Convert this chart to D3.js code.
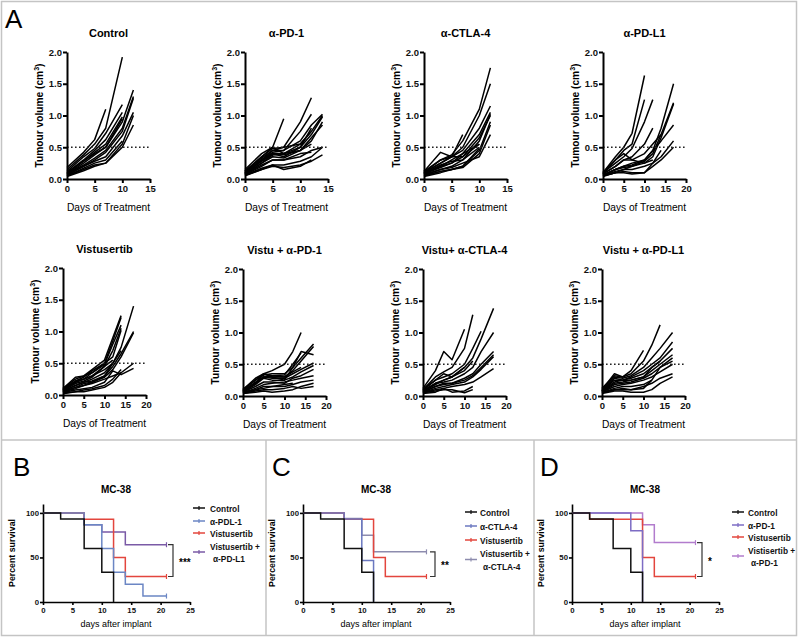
<!DOCTYPE html>
<html><head><meta charset="utf-8">
<script src="https://cdn.jsdelivr.net/npm/d3@7"></script>
<style>body{margin:0;background:#fff} svg{display:block} text{font-family:"Liberation Sans",Arial,sans-serif}</style>
</head><body><svg id="c" width="800" height="637"></svg>
<script>
// ---------- DATA ----------
const tumourDays = [0,3,5,7,10,12,14,17];
const tumourYTicks = [0,0.5,1,1.5,2];
const tumourTitles = ["Control","α-PD-1","α-CTLA-4","α-PD-L1","Vistusertib","Vistu + α-PD-1","Vistu+ α-CTLA-4","Vistu + α-PD-L1"];
const tumourXMax = [15,15,15,20,20,20,20,20];
const thresholdVolume = 0.5;

const controlVol = [
 [0.15,0.38,0.55,0.8,1.92],[0.18,0.42,0.62,1.1],[0.12,0.35,0.48,0.72,1.17],[0.1,0.3,0.45,0.62,1.05],
 [0.1,0.28,0.42,0.55,0.98],[0.08,0.25,0.38,0.5,0.9,1.4],[0.08,0.22,0.33,0.45,0.8,1.3],[0.07,0.2,0.3,0.42,0.75,1.27],
 [0.06,0.2,0.28,0.35,0.68,1.05],[0.05,0.17,0.25,0.3,0.6],[0.05,0.15,0.22,0.25,0.55,1.0],[0.04,0.13,0.2,0.25,0.5,0.85],
 [0.09,0.28,0.4,0.5,0.95]];
const pd1Vol = [
 [0.15,0.4,0.5,0.95],[0.12,0.35,0.48,0.5,0.9,1.28],[0.12,0.33,0.45,0.45,0.75,1.02],[0.1,0.3,0.42,0.45,0.6,0.85,1.02],
 [0.1,0.28,0.4,0.4,0.55,0.75,1.0],[0.1,0.3,0.4,0.35,0.5,0.7,0.98],[0.09,0.28,0.38,0.38,0.45,0.6,0.9],[0.08,0.25,0.35,0.33,0.45,0.55],
 [0.08,0.25,0.38,0.4,0.5,0.8],[0.07,0.2,0.3,0.3,0.35,0.45,0.5],[0.06,0.15,0.2,0.18,0.22,0.28,0.38],[0.06,0.17,0.22,0.22,0.28,0.35,0.5],
 [0.1,0.3,0.45,0.5,0.55,0.75],[0.08,0.22,0.3,0.3,0.4,0.42],[0.12,0.35,0.5,0.4,0.45,0.65,0.85],[0.05,0.15,0.22,0.15,0.2,0.3]];
const ctla4Vol = [
 [0.12,0.3,0.38,0.6,1.1,1.75],[0.1,0.25,0.35,0.5,1.0,1.5],[0.12,0.42,0.35,0.7],[0.1,0.25,0.35,0.45,0.8,1.15],
 [0.08,0.2,0.3,0.4,0.7,1.05],[0.08,0.18,0.25,0.35,0.65,1.0],[0.07,0.15,0.2,0.3,0.6,1.02],[0.06,0.15,0.18,0.25,0.35,0.7],
 [0.1,0.3,0.35,0.35,0.55],[0.05,0.12,0.15,0.2,0.45,0.9],[0.05,0.12,0.15,0.18,0.4,0.85],[0.09,0.22,0.28,0.3,0.5],
 [0.04,0.1,0.15,0.2,0.48],[0.08,0.2,0.25,0.4,0.55]];
const pdl1Vol = [
 [0.1,0.35,0.5,0.72,1.63],[0.08,0.3,0.45,0.55,1.25],[0.1,0.25,0.35,0.48,0.9,1.25],[0.08,0.2,0.3,0.35,0.55,0.8],
 [0.06,0.15,0.2,0.25,0.3,0.45,0.8,1.5],[0.06,0.15,0.18,0.2,0.28,0.4,0.7,1.2],[0.05,0.12,0.15,0.2,0.25,0.35,0.65,1.18],
 [0.05,0.1,0.15,0.15,0.2,0.25,0.35,0.6],[0.08,0.2,0.3,0.3,0.4,0.55,0.7],[0.04,0.1,0.12,0.1,0.1,0.2,0.3,0.5],
 [0.06,0.15,0.2,0.22,0.3,0.45,0.6,0.85],[0.05,0.1,0.1,0.08,0.1,0.25,0.45],[0.1,0.3,0.4,0.3,0.25,0.3]];
const vistVol = [
 [0.1,0.25,0.3,0.4,0.55,0.9,1.25],[0.1,0.22,0.28,0.38,0.5,0.85,1.22],[0.08,0.2,0.25,0.35,0.48,0.8,1.1],[0.08,0.2,0.25,0.3,0.45,0.7,1.05],
 [0.06,0.15,0.2,0.25,0.35,0.5,0.75,1.4],[0.06,0.15,0.2,0.22,0.3,0.45,0.65,1.0],[0.05,0.12,0.18,0.2,0.28,0.4,0.6,0.98],
 [0.05,0.1,0.15,0.18,0.25,0.3,0.35,0.5],[0.04,0.08,0.1,0.12,0.2,0.38,0.32,0.42],[0.08,0.22,0.25,0.3,0.4,0.5],
 [0.03,0.05,0.08,0.1,0.15,0.25,0.4],[0.1,0.28,0.3,0.35,0.5,0.6,1.02],[0.07,0.18,0.22,0.28,0.45,0.55],
 [0.05,0.12,0.15,0.2,0.3,0.5,0.7],[0.02,0.05,0.05,0.08,0.12,0.2,0.35]];
const vistPd1Vol = [
 [0.1,0.28,0.35,0.4,0.5,0.7,1.0],[0.1,0.25,0.33,0.35,0.35,0.45,0.6,0.82],[0.08,0.22,0.3,0.3,0.3,0.4,0.55,0.78],
 [0.08,0.2,0.35,0.3,0.25,0.45,0.7,0.65],[0.07,0.2,0.3,0.28,0.28,0.35,0.42,0.52],[0.06,0.18,0.28,0.25,0.25,0.3,0.38,0.48],
 [0.06,0.15,0.22,0.22,0.2,0.28,0.32,0.42],[0.05,0.12,0.18,0.2,0.22,0.25,0.28,0.32],[0.05,0.1,0.15,0.15,0.15,0.18,0.22,0.25],
 [0.04,0.08,0.1,0.1,0.12,0.15,0.12,0.15],[0.04,0.06,0.08,0.06,0.08,0.1,0.15,0.2],[0.1,0.25,0.35,0.32,0.3,0.38,0.45],
 [0.05,0.1,0.12,0.15,0.18,0.2],[0.08,0.2,0.3,0.32,0.33,0.5,0.68]];
const vistCtla4Vol = [
 [0.12,0.4,0.7,0.57,1.05],[0.1,0.3,0.38,0.45,0.75,1.28],[0.08,0.2,0.25,0.3,0.45,0.6,0.9,1.38],[0.08,0.2,0.22,0.25,0.35,0.45,0.7,1.0],
 [0.06,0.15,0.2,0.2,0.28,0.35,0.5,0.7],[0.06,0.15,0.18,0.2,0.25,0.32,0.45,0.65],[0.05,0.12,0.15,0.18,0.22,0.3,0.42,0.62],
 [0.05,0.1,0.12,0.15,0.18,0.22,0.3,0.43],[0.04,0.06,0.12,0.06,0.08,0.15],[0.1,0.25,0.35,0.3,0.4,0.55],
 [0.05,0.08,0.1,0.1,0.05,0.1],[0.09,0.25,0.3,0.35,0.5,0.75,1.02],[0.07,0.18,0.25,0.3,0.45]];
const vistPdl1Vol = [
 [0.12,0.32,0.3,0.35,0.55,0.8,1.12],[0.1,0.3,0.28,0.32,0.45,0.6,0.75,1.0],[0.1,0.35,0.3,0.4,0.72],
 [0.08,0.25,0.25,0.3,0.4,0.5,0.6,0.85],[0.08,0.22,0.25,0.28,0.35,0.45,0.55,0.75],[0.07,0.2,0.22,0.25,0.3,0.4,0.5,0.65],
 [0.06,0.18,0.2,0.22,0.28,0.35,0.45,0.55],[0.06,0.15,0.18,0.2,0.25,0.3,0.38,0.5],[0.05,0.1,0.12,0.1,0.15,0.2,0.28,0.35],
 [0.04,0.08,0.08,0.06,0.06,0.1,0.2,0.3],[0.05,0.12,0.15,0.15,0.18,0.25,0.45,0.6],[0.08,0.28,0.25,0.25,0.3,0.45,0.55],
 [0.05,0.1,0.1,0.1,0.12,0.25]];
const tumourSets = [controlVol,pd1Vol,ctla4Vol,pdl1Vol,vistVol,vistPd1Vol,vistCtla4Vol,vistPdl1Vol];

// survival
const survPanels = ["B","C","D"];
const survTitle = "MC-38";
const survXTicks = [0,5,10,15,20,25];
const survYTicks = [0,50,100];
const survNamesB = ["Control","α-PDL-1","Vistusertib","Vistusertib +|α-PD-L1"];
const survNamesC = ["Control","α-CTLA-4","Vistusertib","Vistusertib +|α-CTLA-4"];
const survNamesD = ["Control","α-PD-1","Vistusertib","Vistisertib +|α-PD-1"];
const survTimesB = [[0,3,7,10,12],[0,7,10,12,14,17,21],[0,7,12,14,21],[0,7,10,14,21]];
const survValsB  = [[100,93.3,60,33.3,0],[100,86.7,60,33.3,20,6.7,6.7],[100,92.9,50,28.6,28.6],[100,86.7,78.6,64.3,64.3]];
const survTimesC = [[0,3,7,10,12],[0,7,10,12],[0,7,12,14,21],[0,7,10,12,21]];
const survValsC  = [[100,93.3,60,33.3,0],[100,93.3,46.7,0],[100,92.9,50,28.6,28.6],[100,93.8,75,56.3,56.3]];
const survTimesD = [[0,3,7,10,12],[0,10,12],[0,3,12,14,21],[0,12,14,21]];
const survValsD  = [[100,93.3,60,33.3,0],[100,80,0],[100,92.9,50,28.6,28.6],[100,86.7,66.7,66.7]];
const survSig = ["***","**","*"];
const survColorsB = ["#111","#6b86c4","#e3463d","#7a5aa6"];
const survColorsC = ["#111","#6b78c0","#e3463d","#8d8cae"];
const survColorsD = ["#111","#7d6cc4","#e3463d","#b27ccd"];

// ---------- DRAW ----------
const svg = d3.select("#c");
const FONT = '"Liberation Sans",Arial,sans-serif';

const fr = svg.append("g").attr("fill","none").attr("stroke","#c4c4c4").attr("stroke-width",1.5);
fr.append("rect").attr("x",1.5).attr("y",1.5).attr("width",795).attr("height",634);
fr.append("line").attr("x1",1.5).attr("x2",796.5).attr("y1",440).attr("y2",440);
fr.append("line").attr("x1",266).attr("x2",266).attr("y1",440).attr("y2",636);
fr.append("line").attr("x1",534).attr("x2",534).attr("y1",440).attr("y2",636);

svg.append("text").attr("x",5).attr("y",28).attr("font-size",26).text("A");

const tLayout = [[67,179],[245,179],[424,179],[603,179],[63,395],[243,396],[423,396],[602,396]];
const PW = 83, PH = 127;

tumourSets.forEach((set,i)=>{
  const [ox,oy] = tLayout[i];
  const g = svg.append("g").attr("transform",`translate(${ox},${oy})`);
  const x = d3.scaleLinear().domain([0,tumourXMax[i]]).range([0,PW]);
  const y = d3.scaleLinear().domain([0,2]).range([0,-PH]);
  const line = d3.line().x((d,j)=>x(tumourDays[j])).y(d=>y(d));
  g.selectAll("path.s").data(set).join("path").attr("class","s")
    .attr("d",line).attr("fill","none").attr("stroke","#000").attr("stroke-width",1.5).attr("stroke-linejoin","round");
  g.append("line").attr("x1",x(0)).attr("x2",x(tumourXMax[i])).attr("y1",y(thresholdVolume)).attr("y2",y(thresholdVolume))
    .attr("stroke","#222").attr("stroke-width",1.3).attr("stroke-dasharray","1.6,2.4");
  const ax = g.append("g").call(d3.axisBottom(x).tickValues(d3.range(0,tumourXMax[i]+1,5)).tickSize(4).tickSizeOuter(0).tickPadding(2));
  const ay = g.append("g").call(d3.axisLeft(y).tickValues(tumourYTicks).tickFormat(d3.format(".1f")).tickSize(4).tickSizeOuter(0).tickPadding(1));
  [ax,ay].forEach(a=>{
    a.selectAll("path,line").attr("stroke","#000").attr("stroke-width",2);
    a.selectAll("text").attr("font-family",FONT).attr("font-weight","bold").attr("font-size",9.5).attr("fill","#111");
  });
  g.append("text").attr("x",PW/2).attr("y",-PH-15).attr("text-anchor","middle").attr("font-weight","bold").attr("font-size",11).text(tumourTitles[i]);
  g.append("text").attr("x",PW/2).attr("y",32).attr("text-anchor","middle").attr("font-size",10.2).text("Days of Treatment");
  const yl = g.append("text").attr("transform",`translate(-24,${-PH/2}) rotate(-90)`).attr("text-anchor","middle")
     .attr("font-weight","bold").attr("font-size",10.2);
  yl.append("tspan").text("Tumour volume (cm");
  yl.append("tspan").attr("dy",-4).attr("font-size",7).text("3");
  yl.append("tspan").attr("dy",4).text(")");
});

const sLayout = [
  {ox:43, lab:[13,476], lx:193, tx:210, ly:[508,521,533,546,558], br:173},
  {ox:303, lab:[272,476], lx:465, tx:480, ly:[512,526,540,553,566], br:435},
  {ox:572, lab:[540,476], lx:732, tx:748, ly:[512,525,537,550,562], br:702}];
const sNames=[survNamesB,survNamesC,survNamesD], sTimes=[survTimesB,survTimesC,survTimesD],
      sVals=[survValsB,survValsC,survValsD], sCols=[survColorsB,survColorsC,survColorsD];
survPanels.forEach((p,i)=>{
  const L = sLayout[i];
  svg.append("text").attr("x",L.lab[0]).attr("y",L.lab[1]).attr("font-size",26).text(p);
  const x = d3.scaleLinear().domain([0,25]).range([L.ox,L.ox+147]);
  const y = d3.scaleLinear().domain([0,110]).range([602,504]);
  const g = svg.append("g");
  const ax = g.append("g").attr("transform","translate(0,602)").call(d3.axisBottom(x).tickValues(survXTicks).tickSize(3).tickSizeOuter(0).tickPadding(2));
  const ay = g.append("g").attr("transform",`translate(${L.ox},0)`).call(d3.axisLeft(y).tickValues(survYTicks).tickSize(3).tickSizeOuter(0).tickPadding(1));
  [ax,ay].forEach(a=>{
    a.selectAll("path,line").attr("stroke","#000").attr("stroke-width",1.6);
    a.selectAll("text").attr("font-family",FONT).attr("font-weight","bold").attr("font-size",7.8).attr("fill","#111");
  });
  [3,2,1,0].forEach(k=>{
    const pts = sTimes[i][k].map((t,j)=>[t,sVals[i][k][j]]);
    g.append("path").attr("d",d3.line().curve(d3.curveStepAfter).x(d=>x(d[0])).y(d=>y(d[1]))(pts))
      .attr("fill","none").attr("stroke",sCols[i][k]).attr("stroke-width",1.5);
    const last = pts[pts.length-1];
    if(last[1]>0){
      g.append("line").attr("x1",x(last[0])).attr("x2",x(last[0])).attr("y1",y(last[1])-2.5).attr("y2",y(last[1])+2.5)
       .attr("stroke",sCols[i][k]).attr("stroke-width",1.2);
    }
  });
  const yTop = y(sVals[i][3][sVals[i][3].length-1]), yBot = y(sVals[i][2][sVals[i][2].length-1]);
  g.append("path").attr("d",`M${L.br-5},${yTop}H${L.br}V${yBot}H${L.br-5}`).attr("fill","none").attr("stroke","#333").attr("stroke-width",1.2);
  g.append("text").attr("x",L.br+6).attr("y",(yTop+yBot)/2+5).attr("font-size",10).attr("font-weight","bold").text(survSig[i]);
  g.append("text").attr("x",L.ox+73).attr("y",493).attr("text-anchor","middle").attr("font-weight","bold").attr("font-size",10).text(survTitle);
  g.append("text").attr("x",L.ox+73).attr("y",627).attr("text-anchor","middle").attr("font-size",9).text("days after implant");
  g.append("text").attr("transform",`translate(${L.ox-28},553) rotate(-90)`).attr("text-anchor","middle").attr("font-size",8.8).attr("font-weight","bold").text("Percent survival");
  sNames[i].forEach((n,k)=>{
    const parts = n.split("|");
    const yy = L.ly[k];
    const ly = parts[1] ? (L.ly[3]+L.ly[4])/2 : yy;
    g.append("line").attr("x1",L.lx).attr("x2",L.lx+12).attr("y1",ly).attr("y2",ly).attr("stroke",sCols[i][k]).attr("stroke-width",1.5);
    g.append("line").attr("x1",L.lx+6).attr("x2",L.lx+6).attr("y1",ly-2).attr("y2",ly+2).attr("stroke",sCols[i][k]).attr("stroke-width",1.2);
    g.append("text").attr("x",L.tx).attr("y",yy+3.5).attr("font-size",8.3).attr("font-weight","bold").attr("fill","#111").text(parts[0]);
    if(parts[1]) g.append("text").attr("x",L.tx+3).attr("y",L.ly[4]+3.5).attr("font-size",8.3).attr("font-weight","bold").attr("fill","#111").text(parts[1]);
  });
});
</script></body></html>
